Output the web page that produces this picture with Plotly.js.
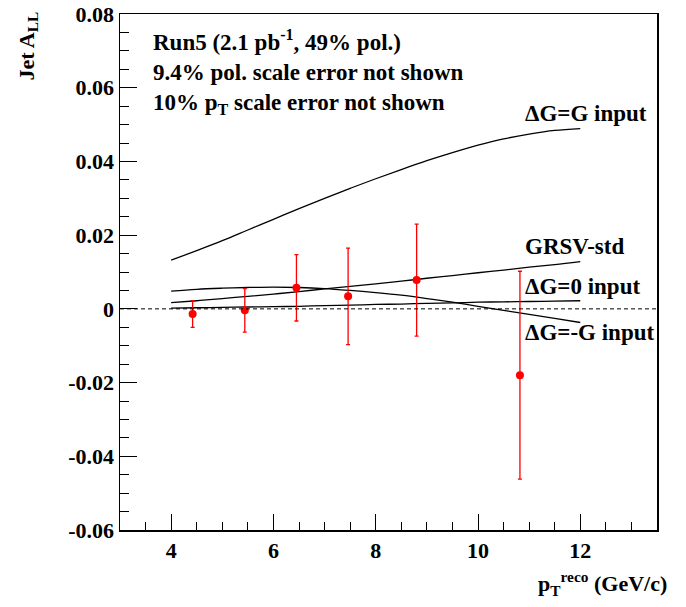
<!DOCTYPE html>
<html><head><meta charset="utf-8">
<script src="https://cdn.plot.ly/plotly-3.0.1.min.js"></script>
<style>body{margin:0;background:#fff}#plot{width:686px;height:607px}</style>
</head><body><div id="plot"></div>
<script>
// Data points (Run5)
const ptData = [4.42, 5.44, 6.45, 7.46, 8.80, 10.82];
const allData = [-0.0014, -0.0004, 0.0057, 0.0034, 0.0078, -0.0180];
const allErr = [0.0036, 0.0059, 0.0090, 0.0131, 0.0152, 0.0282];

// Theory curves
const ptCurve = [4, 4.5, 5, 5.5, 6, 6.5, 7, 7.5, 8, 8.5, 9, 9.5, 10, 10.5, 11, 11.5, 12];
const dgG    = [0.0132, 0.0158, 0.0185, 0.0214, 0.0243, 0.0272, 0.0300, 0.0327, 0.0353, 0.0378, 0.0402, 0.0424, 0.0444, 0.0461, 0.0474, 0.0484, 0.0489];
const grsv   = [0.0017, 0.0022, 0.0028, 0.0034, 0.0040, 0.0047, 0.0054, 0.0061, 0.0068, 0.0075, 0.0083, 0.0090, 0.0098, 0.0105, 0.0113, 0.0120, 0.0128];
const dg0    = [0.0002, 0.0003, 0.0004, 0.0005, 0.0006, 0.0007, 0.0009, 0.0010, 0.0012, 0.0013, 0.0015, 0.0016, 0.0018, 0.0019, 0.0020, 0.0021, 0.0022];
const dgMinG = [0.0048, 0.0053, 0.0056, 0.0058, 0.0059, 0.0058, 0.0055, 0.0050, 0.0044, 0.0037, 0.0028, 0.0018, 0.0007, -0.0004, -0.0015, -0.0026, -0.0037];

const curveNames = ['\u0394G=G input', 'GRSV-std', '\u0394G=0 input', '\u0394G=-G input'];
const curveLabelY = [0.0531, 0.0170, 0.0062, -0.0065];
const curveLabelX = 10.88;

const infoLines = ['Run5 (2.1 pb<sup>-1</sup>, 49% pol.)', '9.4% pol. scale error not shown', '10% p<sub>T</sub> scale error not shown'];
const infoY = [0.0727, 0.0640, 0.0556];
const infoX = 3.6;

const xTickVals = [4, 6, 8, 10, 12];
const yTickVals = [-0.06, -0.04, -0.02, 0, 0.02, 0.04, 0.06, 0.08];
const yTickText = ['-0.06', '-0.04', '-0.02', '0', '0.02', '0.04', '0.06', '0.08'];

const font = '"Liberation Serif", "Times New Roman", Times, serif';
const curves = [dgG, grsv, dg0, dgMinG];
const traces = curves.map((c, i) => ({
  x: ptCurve, y: c, type: 'scatter', mode: 'lines',
  line: {color: '#000', width: 1.3, shape: 'spline'}, name: curveNames[i], hoverinfo: 'skip'
}));
traces.push({
  x: ptData, y: allData, type: 'scatter', mode: 'markers',
  marker: {color: '#ff0000', size: 8},
  error_y: {type: 'data', array: allErr, visible: true, color: '#ff0000', thickness: 1.3, width: 2}
});

const annotations = curveNames.map((n, i) => ({
  x: curveLabelX, y: curveLabelY[i], xref: 'x', yref: 'y', xanchor: 'left', yanchor: 'middle',
  text: '<b>' + n + '</b>', showarrow: false, font: {family: font, size: 23, color: '#000'}
}));
infoLines.forEach((t, i) => annotations.push({
  x: infoX, y: infoY[i], xref: 'x', yref: 'y', xanchor: 'left', yanchor: 'middle',
  text: '<b>' + t + '</b>', showarrow: false, font: {family: font, size: 23, color: '#000'}
}));
annotations.push({
  x: -0.171, y: 1.008, xref: 'paper', yref: 'paper', xanchor: 'center', yanchor: 'top',
  text: '<b>Jet A<sub>LL</sub></b>', textangle: -90, showarrow: false,
  font: {family: font, size: 22, color: '#000'}
});
annotations.push({
  x: 1.022, y: -0.103, xref: 'paper', yref: 'paper', xanchor: 'right', yanchor: 'middle',
  text: '<b>p<sub>T</sub><sup>reco</sup> (GeV/c)</b>', showarrow: false,
  font: {family: font, size: 22, color: '#000'}
});

const layout = {
  width: 686, height: 607,
  margin: {l: 120, r: 29, t: 14, b: 77},
  paper_bgcolor: '#fff', plot_bgcolor: '#fff',
  showlegend: false,
  font: {family: font, color: '#000'},
  xaxis: {
    range: [3, 13.5], tickmode: 'array', tickvals: xTickVals,
    ticktext: xTickVals.map(v => '<b>' + v + '</b>'),
    ticks: 'inside', ticklen: 16, tickcolor: '#000', tickwidth: 1,
    minor: {dtick: 0.5, tick0: 3, ticks: 'inside', ticklen: 8, tickcolor: '#000', showgrid: false},
    showline: true, linecolor: '#000', linewidth: 1.5, mirror: true,
    showgrid: false, zeroline: false,
    tickfont: {family: font, size: 22, color: '#000'}
  },
  yaxis: {
    range: [-0.06, 0.08], tickmode: 'array',
    tickvals: yTickVals, ticktext: yTickText.map(t => '<b>' + t + '</b>'),
    ticks: 'inside', ticklen: 17, tickcolor: '#000', tickwidth: 1,
    minor: {dtick: 0.005, tick0: 0, ticks: 'inside', ticklen: 9, tickcolor: '#000', showgrid: false},
    showline: true, linecolor: '#000', linewidth: 1.5, mirror: true,
    showgrid: false, zeroline: false,
    tickfont: {family: font, size: 22, color: '#000'}
  },
  shapes: [{type: 'line', xref: 'paper', x0: 0, x1: 1, yref: 'y', y0: 0, y1: 0,
    line: {color: '#000', width: 1, dash: '4px,3px'}}],
  annotations: annotations
};
Plotly.newPlot('plot', traces, layout, {displayModeBar: false, staticPlot: true});
</script></body></html>
